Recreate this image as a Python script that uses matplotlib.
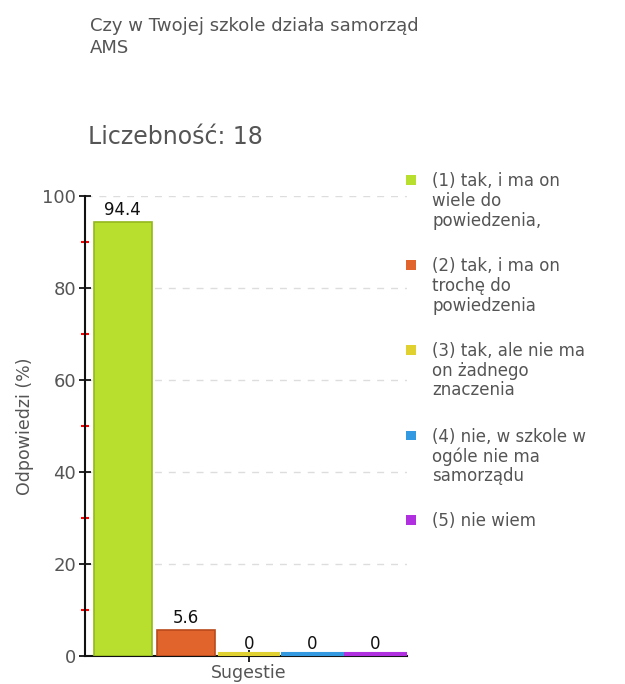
import matplotlib
matplotlib.use("Agg")
import matplotlib.pyplot as plt
from matplotlib.patches import Rectangle
from matplotlib.ticker import MultipleLocator

title = "Czy w Twojej szkole działa samorząd\nAMS"
count_label = "Liczebność: 18"
categories = ["(1) tak, i ma on\nwiele do\npowiedzenia,",
              "(2) tak, i ma on\ntrochę do\npowiedzenia",
              "(3) tak, ale nie ma\non żadnego\nznaczenia",
              "(4) nie, w szkole w\nogóle nie ma\nsamorządu",
              "(5) nie wiem"]
values = [94.4, 5.6, 0, 0, 0]
value_labels = ["94.4", "5.6", "0", "0", "0"]
colors = ["#b8de2e", "#e0642c", "#e0d030", "#3399e0", "#b030e0"]
edges = ["#94b81c", "#b84a1a", "#c4b41c", "#2080c8", "#9020c0"]
xlabel = "Sugestie"
ylabel = "Odpowiedzi (%)"

fig = plt.figure(figsize=(6.25, 6.84), dpi=100)
ax = fig.add_axes([0.136, 0.041, 0.515, 0.6725])
gray = "#555555"

for i, (v, c, e) in enumerate(zip(values, colors, edges)):
    if v > 0:
        ax.bar(i, v, width=0.93, color=c, edgecolor=e, linewidth=1.2, zorder=3)
    else:
        ax.bar(i, 0.35, bottom=0.25, width=0.96, color=c, edgecolor=c, linewidth=1.5, zorder=4, clip_on=False)
    ax.text(i, v + 0.6, value_labels[i], ha="center", va="bottom", fontsize=12, color="#111111", zorder=5)

ax.set_xlim(-0.6, 4.5)
ax.set_ylim(0, 100)
ax.yaxis.set_major_locator(MultipleLocator(20))
ax.yaxis.set_minor_locator(MultipleLocator(10))
ax.tick_params(axis="y", which="major", direction="inout", length=9, width=1.3, colors="#111111", labelcolor=gray, labelsize=13, pad=2)
ax.tick_params(axis="y", which="minor", direction="inout", length=6, width=1.5, colors="#ff0000")
ax.set_xticks([2])
ax.set_xticklabels([xlabel])
ax.tick_params(axis="x", direction="inout", length=9, width=1.3, colors="#111111", labelcolor=gray, labelsize=12.5, pad=1)
ax.set_ylabel(ylabel, color=gray, fontsize=12.5, labelpad=6)
for s in ["top", "right"]:
    ax.spines[s].set_visible(False)
for s in ["left", "bottom"]:
    ax.spines[s].set_linewidth(1.5)
    ax.spines[s].set_color("#111111")
ax.yaxis.grid(True, which="major", linestyle=(0, (5, 5)), color="#dddddd", linewidth=1, zorder=0)
ax.set_axisbelow(True)

fig.text(0.144, 0.975, title, ha="left", va="top", fontsize=13, color=gray, linespacing=1.25)
fig.text(0.140, 0.800, count_label, ha="left", va="center", fontsize=17, color=gray)

ys = [0.748, 0.624, 0.500, 0.375, 0.252]
for lab, c, y in zip(categories, colors, ys):
    fig.patches.append(Rectangle((0.650, y - 0.019), 0.016, 0.0146, transform=fig.transFigure,
                                 facecolor=c, edgecolor="none"))
    fig.text(0.692, y, lab, ha="left", va="top", fontsize=12, color=gray, linespacing=1.12)

fig.savefig("out.png", dpi=100, facecolor="white")
